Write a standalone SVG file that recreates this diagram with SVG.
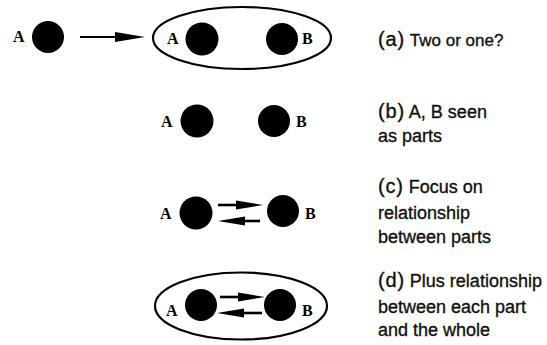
<svg xmlns="http://www.w3.org/2000/svg" width="547" height="345" viewBox="0 0 547 345">
  <style>
    .dot { fill: #000; }
    .whole { fill: none; stroke: #000; stroke-width: 2.2; }
    .lbl { font-family: "Liberation Serif", "Times New Roman", serif; font-weight: bold; font-size: 16px; fill: #000; }
    .cap { font-family: "Liberation Sans", Arial, sans-serif; font-size: 18px; fill: #111; stroke: #111; stroke-width: 0.35; }
    .tag { font-size: 20px; letter-spacing: 0.8px; }
    .link { stroke: #000; stroke-width: 2.2; fill: none; }
    .big { marker-end: url(#headBig); }
    .small { marker-end: url(#headSmall); stroke-width: 2.6; }
  </style>
  <defs>
    <marker id="headBig" markerUnits="userSpaceOnUse" viewBox="0 -6 32 12" refX="0" refY="0" markerWidth="32" markerHeight="12" orient="auto">
      <path d="M0,-5 L30,0 L0,5 Z" fill="#000"/>
    </marker>
    <marker id="headSmall" markerUnits="userSpaceOnUse" viewBox="0 -6 30 12" refX="0" refY="0" markerWidth="30" markerHeight="12" orient="auto">
      <path d="M0,-4.5 L27,0 L0,4.5 Z" fill="#000"/>
    </marker>
  </defs>

  <!-- (a) single A, then A and B inside a whole -->
  <g id="a-single">
    <text class="lbl" x="13" y="42">A</text>
    <circle class="dot" cx="48" cy="37" r="16"/>
  </g>
  <g id="a-whole">
    <ellipse class="whole" cx="242" cy="38" rx="89" ry="31"/>
    <text class="lbl" x="167" y="44">A</text>
    <circle class="dot" cx="202" cy="39" r="16.5"/>
    <circle class="dot" cx="282" cy="39" r="16"/>
    <text class="lbl" x="302" y="44">B</text>
  </g>

  <!-- (b) parts -->
  <g id="b-A">
    <text class="lbl" x="161" y="127">A</text>
    <circle class="dot" cx="197" cy="121" r="16.5"/>
  </g>
  <g id="b-B">
    <circle class="dot" cx="274" cy="121" r="16"/>
    <text class="lbl" x="296" y="127">B</text>
  </g>

  <!-- (c) relationship between parts -->
  <g id="c-A">
    <text class="lbl" x="160" y="219">A</text>
    <circle class="dot" cx="196" cy="213" r="16.5"/>
  </g>
  <g id="c-B">
    <circle class="dot" cx="283" cy="211" r="16"/>
    <text class="lbl" x="305" y="219">B</text>
  </g>

  <!-- (d) parts within the whole -->
  <g id="d-whole">
    <ellipse class="whole" cx="241" cy="306" rx="86" ry="33.5"/>
    <text class="lbl" x="166" y="316">A</text>
    <circle class="dot" cx="201" cy="305" r="16"/>
    <circle class="dot" cx="280" cy="305" r="16"/>
    <text class="lbl" x="302" y="316">B</text>
  </g>

  <g id="connectors">
    <line class="link big" x1="80" y1="37" x2="115" y2="37"/>
    <line class="link small" x1="218" y1="205" x2="236" y2="205"/>
    <line class="link small" x1="260" y1="221" x2="245" y2="221"/>
    <line class="link small" x1="220" y1="297" x2="238" y2="297"/>
    <line class="link small" x1="262" y1="313" x2="244" y2="313"/>
  </g>

  <g id="captions">
    <text class="cap" x="378" y="46"><tspan class="tag">(a)</tspan> <tspan font-size="17">Two or one?</tspan></text>
    <text class="cap" x="378" y="118"><tspan class="tag">(b)</tspan> A, B seen</text>
    <text class="cap" x="378" y="142">as parts</text>
    <text class="cap" x="378" y="193"><tspan class="tag">(c)</tspan> Focus on</text>
    <text class="cap" x="378" y="219">relationship</text>
    <text class="cap" x="378" y="243">between parts</text>
    <text class="cap" x="378" y="287"><tspan class="tag">(d)</tspan> Plus relationship</text>
    <text class="cap" x="378" y="313">between each part</text>
    <text class="cap" x="378" y="336">and the whole</text>
  </g>
</svg>
